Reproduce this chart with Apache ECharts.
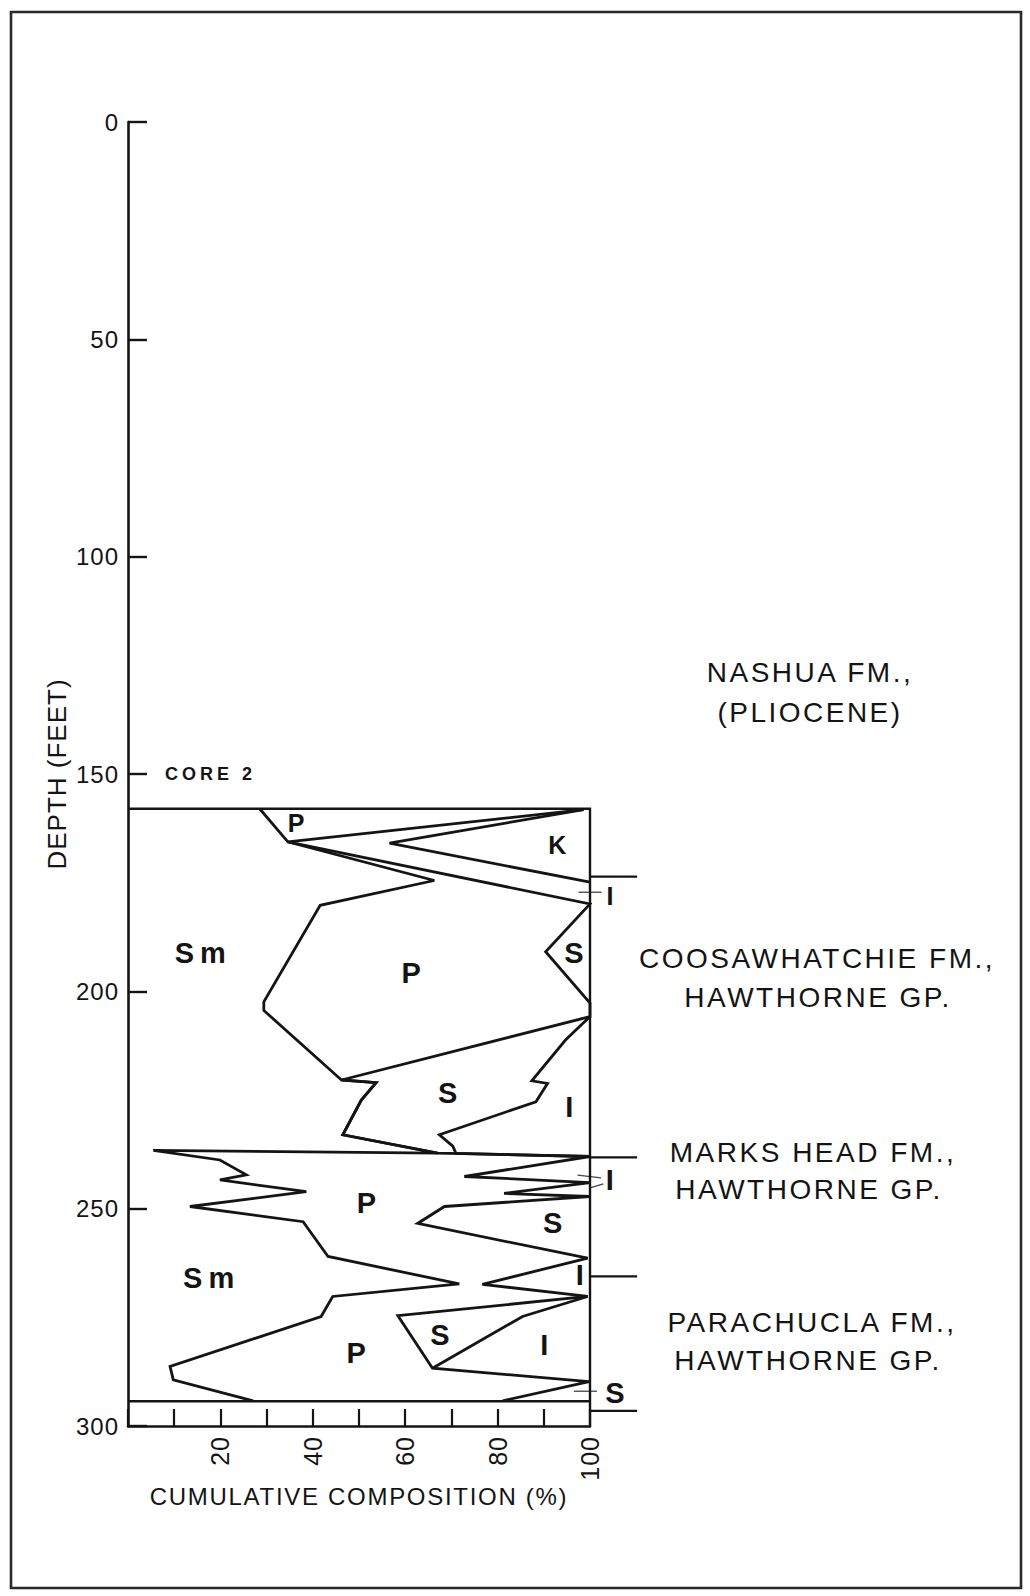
<!DOCTYPE html>
<html>
<head>
<meta charset="utf-8">
<title>Core 2 clay mineralogy</title>
<script src="https://cdn.jsdelivr.net/npm/echarts@6/dist/echarts.min.js"></script>
<style>
  html, body { margin: 0; padding: 0; background: #fff; }
  #chart { width: 1030px; height: 1596px; }
</style>
</head>
<body>
<div id="chart"></div>
<script>
// Depth axis (feet) and cumulative composition axis (%)
const depthRange = [0, 300];
const depthStep = 50;
const compRange = [0, 100];
const compStep = 10;
const compLabels = [20, 40, 60, 80, 100];

// Core 2 interval and formation contacts (feet)
const coreTop = 158;
const coreBase = 294.3;
const formationContacts = [173.6, 238.2, 265.6, 296.5];

// Cumulative boundaries as [percent, depth]
// upper limit of smectite (Sm)
const smectiteTop = [
  [28.5, 158], [34.6, 165.6], [66.3, 174.5], [41.6, 180.2], [29.4, 202.4],
  [29.4, 204.4], [46.2, 220.4], [53.7, 221.0], [50.5, 225.0], [46.5, 233.0],
  [67.0, 237.2], [5.5, 236.6], [19.9, 238.8], [25.6, 242.2], [19.9, 243.4],
  [38.6, 246.1], [13.4, 249.5], [37.9, 253.0], [43.3, 261.0], [71.7, 267.3],
  [44.3, 270.2], [41.8, 274.8], [9.1, 286.3], [9.8, 289.4], [27.1, 294.2]
];
// upper limit of palygorskite (P)
const palygorskiteTop = [
  [98.6, 158.2], [34.6, 165.6], [100, 179.9], [90.4, 190.9], [100, 202.7],
  [100, 205.8], [46.2, 220.4], [53.7, 221.0], [50.5, 225.0], [46.5, 233.0],
  [67.0, 237.2], [100, 238.0], [72.8, 242.6], [100, 244.0], [81.4, 246.5],
  [100, 247.2], [68.5, 249.5], [62.7, 253.4], [99.5, 261.4], [76.7, 267.4],
  [99.5, 270.2], [58.4, 274.6], [65.9, 286.7], [99.8, 289.8], [81.1, 294.2]
];
// upper limit of sepiolite (S), Coosawhatchie and Parachucla intervals
const sepioliteTopUpper = [
  [100, 205.8], [94.7, 211.2], [87.4, 220.6], [90.8, 221.2], [88.3, 225.4],
  [67.4, 233.0], [70.3, 235.6], [71.0, 237.3], [100, 238.0]
];
const sepioliteTopLower = [
  [99.5, 270.2], [85.4, 274.8], [65.9, 286.7]
];
// upper limit of illite (I) = base of kaolinite (K)
const illiteTop = [
  [98.6, 158.2], [56.6, 165.9], [100, 174.9]
];

// Mineral labels: [percent, depth, text]
const mineralLabelsSmall = [
  [36.4, 161.3, 'P'], [92.9, 166.3, 'K'], [104.3, 178.0, 'I']
];
const mineralLabels = [
  [16.3, 191.2, 'Sm'], [61.3, 195.8, 'P'], [96.5, 191.2, 'S'],
  [69.2, 223.4, 'S'], [95.5, 226.5, 'I'], [51.6, 248.8, 'P'],
  [104.3, 243.4, 'I'], [91.9, 253.3, 'S'], [18.1, 266.0, 'Sm'],
  [97.8, 265.2, 'I'], [67.5, 279.0, 'S'], [90.1, 281.3, 'I'],
  [49.4, 283.3, 'P'], [105.4, 292.5, 'S']
];
const coreLabel = [8.0, 150, 'CORE 2'];
// Short pointer marks next to the thin units
const pointerMarks = [
  [97.5, 177.2, 102.5, 177.2],
  [97.3, 242.3, 102.4, 242.9],
  [100, 245.2, 102.9, 244.3],
  [96.5, 292.0, 101.5, 292.0]
];

const FONT = '"Liberation Sans", Arial, Helvetica, sans-serif';
const INK = '#141414';

// extra tracking for the lettering, keyed by text
const tracking = {
  'CUMULATIVE COMPOSITION (%)': 1.7,
  'DEPTH (FEET)': 1,
  'Sm': 6,
  'CORE 2': 4
};
const FORMATION_TRACKING = 2.5;

const chart = echarts.init(document.getElementById('chart'), null, { renderer: 'svg' });

function boundary(data, width) {
  return {
    type: 'line', data: data, showSymbol: false, symbol: 'none', clip: false,
    silent: true, animation: false,
    lineStyle: { color: INK, width: width || 2.8, join: 'miter', miterLimit: 4 },
    z: 3
  };
}

// straight segments [x1, d1, x2, d2] drawn through the axes, unclipped
function segmentSeries(rows, width, color) {
  return {
    type: 'custom', silent: true, animation: false, clip: false,
    data: rows,
    encode: { x: [0, 2], y: [1, 3] },
    renderItem: function (params, api) {
      const a = api.coord([api.value(0), api.value(1)]);
      const b = api.coord([api.value(2), api.value(3)]);
      return {
        type: 'line',
        shape: { x1: a[0], y1: a[1], x2: b[0], y2: b[1] },
        style: { stroke: color, lineWidth: width, fill: null }
      };
    },
    z: 2
  };
}

function labelSeries(items, font, align) {
  return {
    type: 'custom', silent: true, animation: false, clip: false,
    data: items.map(t => [t[0], t[1]]),
    encode: { x: 0, y: 1 },
    renderItem: function (params, api) {
      const p = api.coord([api.value(0), api.value(1)]);
      return {
        type: 'text', x: p[0], y: p[1],
        style: {
          text: items[params.dataIndex][2], font: font, fill: INK,
          align: align, verticalAlign: 'middle',
          textAlign: align, textVerticalAlign: 'middle'
        }
      };
    },
    z: 4
  };
}

const series = [
  boundary(smectiteTop),
  boundary(palygorskiteTop),
  boundary(sepioliteTopUpper),
  boundary(sepioliteTopLower),
  boundary(illiteTop),
  // core outline
  boundary([[compRange[0], coreTop], [compRange[1], coreTop], [compRange[1], depthRange[1]]], 2.4),
  boundary([[compRange[0], coreBase], [compRange[1], coreBase]], 2.4),
  segmentSeries(formationContacts.map(d => [compRange[1], d, compRange[1] + 10.2, d]), 2.3, INK),
  segmentSeries(pointerMarks, 1.3, '#444'),
  labelSeries(mineralLabelsSmall, 'bold 25px ' + FONT, 'center'),
  labelSeries(mineralLabels, 'bold 29px ' + FONT, 'center'),
  labelSeries([coreLabel], 'bold 18px ' + FONT, 'left')
];

const formationText = [
  ['NASHUA FM.,', 810, 672], ['(PLIOCENE)', 810, 712],
  ['COOSAWHATCHIE FM.,', 817, 958], ['HAWTHORNE GP.', 818, 997],
  ['MARKS HEAD FM.,', 813, 1152], ['HAWTHORNE GP.', 809, 1189],
  ['PARACHUCLA FM.,', 812, 1322], ['HAWTHORNE GP.', 808, 1360]
];
formationText.forEach(t => { tracking[t[0]] = FORMATION_TRACKING; });

const option = {
  backgroundColor: '#fff',
  animation: false,
  grid: { left: 128, right: 440, top: 122, bottom: 170, containLabel: false },
  xAxis: {
    type: 'value', min: compRange[0], max: compRange[1], interval: compStep,
    position: 'bottom',
    axisLine: { show: true, onZero: false, lineStyle: { color: INK, width: 2.6 } },
    axisTick: { show: true, inside: true, length: 17, lineStyle: { color: INK, width: 2.2 } },
    axisLabel: {
      show: true, rotate: 90, margin: 10, fontFamily: FONT, fontSize: 25, color: INK,
      formatter: v => compLabels.indexOf(v) >= 0 ? String(v) : ''
    },
    splitLine: { show: false },
    name: 'CUMULATIVE COMPOSITION (%)', nameLocation: 'middle', nameGap: 58,
    nameMoveOverlap: false,
    nameTextStyle: { fontFamily: FONT, fontSize: 24, color: INK }
  },
  yAxis: {
    type: 'value', min: depthRange[0], max: depthRange[1], interval: depthStep,
    inverse: true,
    axisLine: { show: true, onZero: false, lineStyle: { color: INK, width: 2.6 } },
    axisTick: { show: true, inside: true, length: 19, lineStyle: { color: INK, width: 2.4 } },
    axisLabel: { show: true, margin: 9, fontFamily: FONT, fontSize: 24, color: INK },
    splitLine: { show: false },
    name: 'DEPTH (FEET)', nameLocation: 'middle', nameRotate: 90, nameGap: 58,
    nameMoveOverlap: false,
    nameTextStyle: { fontFamily: FONT, fontSize: 26, color: INK }
  },
  series: series,
  graphic: [
    {
      type: 'rect', silent: true,
      shape: { x: 11, y: 12, width: 1010, height: 1576 },
      style: { fill: 'none', stroke: '#2a2a2a', lineWidth: 2.6 }
    }
  ].concat(formationText.map(t => ({
    type: 'text', silent: true, x: t[1], y: t[2],
    style: {
      text: t[0], font: '28px ' + FONT, fill: INK,
      textAlign: 'center', textVerticalAlign: 'middle'
    }
  })))
};

chart.setOption(option);

// open up the lettering the way the drafted labels are spaced
function applyTracking() {
  document.querySelectorAll('#chart svg text').forEach(el => {
    const key = el.textContent;
    const s = tracking.hasOwnProperty(key) ? tracking[key] : (/^\d+$/.test(key) ? 1 : 0);
    if (s) el.style.letterSpacing = s + 'px';
  });
}
chart.on('finished', applyTracking);
applyTracking();
setTimeout(applyTracking, 50);
</script>
</body>
</html>
